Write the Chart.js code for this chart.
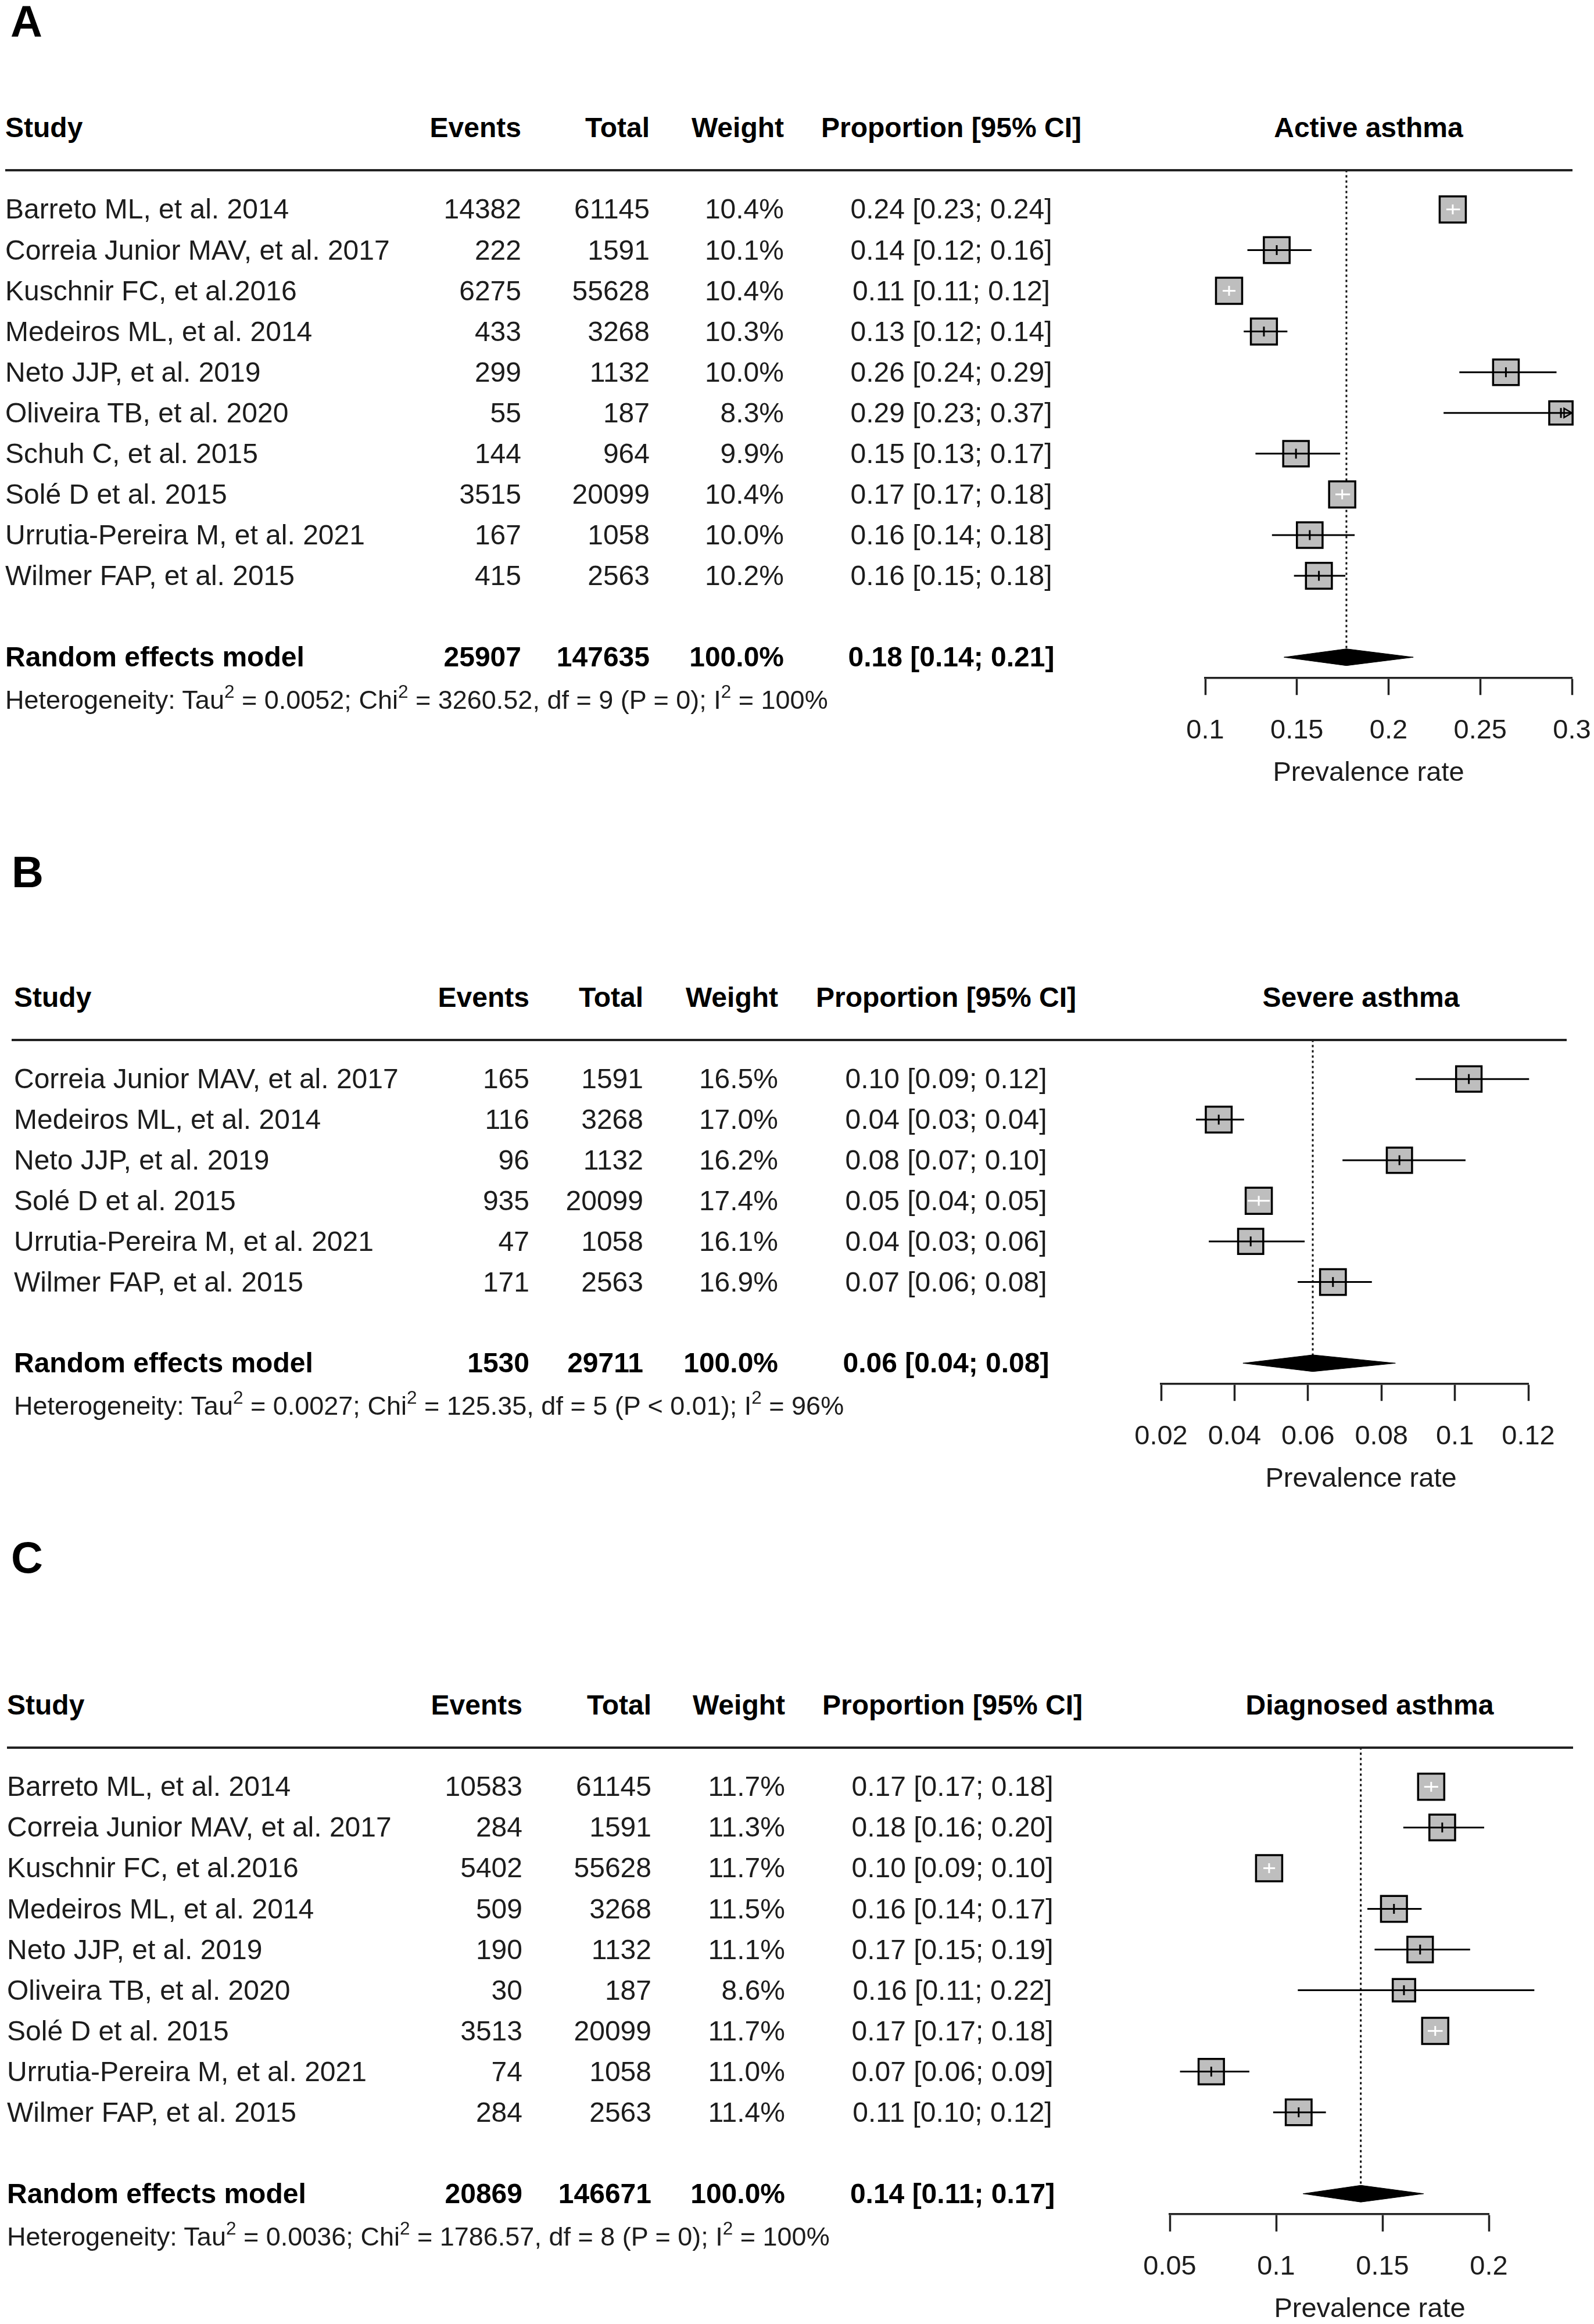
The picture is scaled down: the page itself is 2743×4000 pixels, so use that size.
<!DOCTYPE html>
<html>
<head>
<meta charset="utf-8">
<script src="https://cdn.jsdelivr.net/npm/chart.js@4.4.1/dist/chart.umd.min.js"></script>
<style>
html,body{margin:0;padding:0;background:#fff;}
#page{position:relative;width:2743px;height:4000px;overflow:hidden;background:#fff;font-family:"Liberation Sans",Arial,sans-serif;}
.hline{position:absolute;height:4px;background:#222;}
</style>
</head>
<body>
<div id="page"></div>
<script>
// ================= DATA =================
// ---- Panel A : Active asthma ----
const studiesA = ["Barreto ML, et al. 2014","Correia Junior MAV, et al. 2017","Kuschnir FC, et al.2016","Medeiros ML, et al. 2014","Neto JJP, et al. 2019","Oliveira TB, et al. 2020","Schuh C, et al. 2015","Solé D et al. 2015","Urrutia-Pereira M, et al. 2021","Wilmer FAP, et al. 2015"];
const eventsA  = [14382, 222, 6275, 433, 299, 55, 144, 3515, 167, 415];
const totalsA  = [61145, 1591, 55628, 3268, 1132, 187, 964, 20099, 1058, 2563];
const weightsA = [10.4, 10.1, 10.4, 10.3, 10.0, 8.3, 9.9, 10.4, 10.0, 10.2];
const propTextA = ["0.24 [0.23; 0.24]","0.14 [0.12; 0.16]","0.11 [0.11; 0.12]","0.13 [0.12; 0.14]","0.26 [0.24; 0.29]","0.29 [0.23; 0.37]","0.15 [0.13; 0.17]","0.17 [0.17; 0.18]","0.16 [0.14; 0.18]","0.16 [0.15; 0.18]"];
const estA  = [0.235, 0.139, 0.113, 0.132, 0.264, 0.294, 0.1495, 0.1747, 0.157, 0.162];
const lowA  = [0.2315, 0.123, 0.1095, 0.121, 0.2386, 0.23, 0.1274, 0.171, 0.1364, 0.1484];
const highA = [0.239, 0.158, 0.1165, 0.1448, 0.2916, 0.37, 0.1736, 0.179, 0.1815, 0.1764];
const pooledA = [0.143, 0.177, 0.2135];           // low, estimate, high
const summaryA = ["Random effects model", "25907", "147635", "100.0%", "0.18 [0.14; 0.21]"];
const hetA = "Heterogeneity: Tau^2 = 0.0052; Chi^2 = 3260.52, df = 9 (P = 0); I^2 = 100%";
const ticksA = [0.1, 0.15, 0.2, 0.25, 0.3];
const tickLabelsA = ["0.1", "0.15", "0.2", "0.25", "0.3"];
const xlimA = [0.1, 0.3];
const titleA = "Active asthma";

// ---- Panel B : Severe asthma ----
const studiesB = ["Correia Junior MAV, et al. 2017","Medeiros ML, et al. 2014","Neto JJP, et al. 2019","Solé D et al. 2015","Urrutia-Pereira M, et al. 2021","Wilmer FAP, et al. 2015"];
const eventsB  = [165, 116, 96, 935, 47, 171];
const totalsB  = [1591, 3268, 1132, 20099, 1058, 2563];
const weightsB = [16.5, 17.0, 16.2, 17.4, 16.1, 16.9];
const propTextB = ["0.10 [0.09; 0.12]","0.04 [0.03; 0.04]","0.08 [0.07; 0.10]","0.05 [0.04; 0.05]","0.04 [0.03; 0.06]","0.07 [0.06; 0.08]"];
const estB  = [0.1038, 0.0357, 0.0849, 0.0466, 0.0444, 0.0668];
const lowB  = [0.0893, 0.0295, 0.0694, 0.0436, 0.033, 0.0572];
const highB = [0.1202, 0.0426, 0.1029, 0.0496, 0.0591, 0.0774];
const pooledB = [0.0423, 0.0613, 0.0838];
const summaryB = ["Random effects model", "1530", "29711", "100.0%", "0.06 [0.04; 0.08]"];
const hetB = "Heterogeneity: Tau^2 = 0.0027; Chi^2 = 125.35, df = 5 (P < 0.01); I^2 = 96%";
const ticksB = [0.02, 0.04, 0.06, 0.08, 0.1, 0.12];
const tickLabelsB = ["0.02", "0.04", "0.06", "0.08", "0.1", "0.12"];
const xlimB = [0.02, 0.13];
const titleB = "Severe asthma";

// ---- Panel C : Diagnosed asthma ----
const studiesC = ["Barreto ML, et al. 2014","Correia Junior MAV, et al. 2017","Kuschnir FC, et al.2016","Medeiros ML, et al. 2014","Neto JJP, et al. 2019","Oliveira TB, et al. 2020","Solé D et al. 2015","Urrutia-Pereira M, et al. 2021","Wilmer FAP, et al. 2015"];
const eventsC  = [10583, 284, 5402, 509, 190, 30, 3513, 74, 284];
const totalsC  = [61145, 1591, 55628, 3268, 1132, 187, 20099, 1058, 2563];
const weightsC = [11.7, 11.3, 11.7, 11.5, 11.1, 8.6, 11.7, 11.0, 11.4];
const propTextC = ["0.17 [0.17; 0.18]","0.18 [0.16; 0.20]","0.10 [0.09; 0.10]","0.16 [0.14; 0.17]","0.17 [0.15; 0.19]","0.16 [0.11; 0.22]","0.17 [0.17; 0.18]","0.07 [0.06; 0.09]","0.11 [0.10; 0.12]"];
const estC  = [0.1729, 0.1781, 0.0967, 0.1554, 0.1677, 0.1601, 0.1748, 0.0695, 0.1106];
const lowC  = [0.1696, 0.1598, 0.094, 0.1429, 0.1463, 0.1102, 0.1713, 0.0548, 0.0986];
const highC = [0.1762, 0.1978, 0.0995, 0.1684, 0.1912, 0.2214, 0.1783, 0.0874, 0.1234];
const pooledC = [0.1127, 0.1398, 0.1693];
const summaryC = ["Random effects model", "20869", "146671", "100.0%", "0.14 [0.11; 0.17]"];
const hetC = "Heterogeneity: Tau^2 = 0.0036; Chi^2 = 1786.57, df = 8 (P = 0); I^2 = 100%";
const ticksC = [0.05, 0.1, 0.15, 0.2];
const tickLabelsC = ["0.05", "0.1", "0.15", "0.2"];
const xlimC = [0.05, 0.25];
const titleC = "Diagnosed asthma";

const headers = ["Study", "Events", "Total", "Weight", "Proportion [95% CI]"];
const axisTitle = "Prevalence rate";

// ================= LAYOUT (positions / styles) =================
const PAGE_W = 2743;
const ROW_GAP = 70.5;
const BOX_SIDE = 45;
const FONT = '"Liberation Sans", Arial, sans-serif';

const layoutA = {letter:"A", letterX:18, letterY:36, row1:355, axisLeft:2074, axisRight:2705, colStudy:9, colEvents:897, colTotal:1118, colWeight:1349, colProp:1637, colTitle:2355, lineL:9, lineR:2706};
const layoutB = {letter:"B", letterX:20, letterY:1500, row1:1852, axisLeft:1998, axisRight:2630, colStudy:24, colEvents:911, colTotal:1107, colWeight:1339, colProp:1628, colTitle:2342, lineL:20, lineR:2696};
const layoutC = {letter:"C", letterX:19, letterY:2680, row1:3070, axisLeft:2013, axisRight:2562, colStudy:12, colEvents:899, colTotal:1121, colWeight:1351, colProp:1639, colTitle:2357, lineL:12, lineR:2707};

const page = document.getElementById('page');

function txt(content, x, yc, o) {
  o = o || {};
  const size = o.size || 48;
  const d = document.createElement('div');
  let css = `position:absolute;white-space:nowrap;left:${x}px;top:${yc - 0.4885*size}px;font-size:${size}px;line-height:${size}px;` +
            `font-weight:${o.bold ? 'bold' : 'normal'};color:${o.bold ? '#000' : '#1c1c1c'};`;
  if (o.align === 'right') css += 'transform:translateX(-100%);';
  if (o.align === 'center') css += 'transform:translateX(-50%);';
  d.style.cssText = css;
  if (o.html) d.innerHTML = content; else d.textContent = content;
  page.appendChild(d);
}

function buildPanel(cfg, L) {
  const n = cfg.studies.length;
  const yMax = n + 2.5;
  const padTop = 30, axisH = 150;
  const plotH = ROW_GAP * yMax;
  const cTop = L.row1 - ROW_GAP - padTop;
  const cH = Math.ceil(padTop + plotH + axisH);
  const fitH = cH - padTop - plotH;

  const canvas = document.createElement('canvas');
  canvas.width = PAGE_W; canvas.height = cH;
  canvas.style.cssText = `position:absolute;left:0;top:${cTop}px;width:${PAGE_W}px;height:${cH}px;`;
  page.appendChild(canvas);

  const t0 = cfg.ticks[0], t1 = cfg.ticks[cfg.ticks.length - 1];
  const pxPerUnit = (L.axisRight - L.axisLeft) / (t1 - t0);
  const wMax = Math.max(...cfg.weights);
  const sides = cfg.weights.map(w => BOX_SIDE * Math.sqrt(w / wMax));
  const inside = cfg.est.map((e, i) => (cfg.high[i] - cfg.low[i]) * pxPerUnit < sides[i]);
  const markCol = inside.map(f => f ? '#ffffff' : '#000000');
  const rows = cfg.est.map((_, i) => i + 1);
  const pooledRow = n + 2;
  const dh = 14.5 / ROW_GAP;

  const datasets = [];
  datasets.push({label:'pooled line', data:[{x:cfg.pooled[1], y:0.03}, {x:cfg.pooled[1], y:pooledRow}],
    showLine:true, borderColor:'#111', borderWidth:3, borderDash:[4,5], pointRadius:0, clip:false, order:6});
  datasets.push({label:'diamond', data:[
      {x:cfg.pooled[0], y:pooledRow}, {x:cfg.pooled[1], y:pooledRow - dh}, {x:cfg.pooled[2], y:pooledRow},
      {x:cfg.pooled[1], y:pooledRow + dh}, {x:cfg.pooled[0], y:pooledRow}, {x:cfg.pooled[2], y:pooledRow}],
    showLine:true, fill:'shape', backgroundColor:'#000', borderColor:'#000', borderWidth:1, pointRadius:0, tension:0, order:5});
  datasets.push({label:'studies', data: cfg.est.map((e, i) => ({x:e, y:rows[i]})),
    pointStyle:'rect', pointRadius: sides.map(s => s / Math.SQRT2), pointBackgroundColor:'#bebebe',
    pointBorderColor:'#000', pointBorderWidth:3.5, showLine:false, clip:false, order:4});
  cfg.est.forEach((e, i) => {
    datasets.push({label:'ci' + i, data:[{x:Math.max(cfg.low[i], cfg.xlim[0]), y:rows[i]}, {x:Math.min(cfg.high[i], cfg.xlim[1]), y:rows[i]}],
      showLine:true, borderColor:markCol[i], borderWidth:3, pointRadius:0, clip:false, order:3});
  });
  const arrows = [];
  cfg.est.forEach((e, i) => { if (cfg.high[i] > cfg.xlim[1]) arrows.push({x: cfg.xlim[1] - 9 / pxPerUnit, y: rows[i]}); });
  if (arrows.length) {
    datasets.push({label:'arrow', data:arrows, pointStyle:'triangle', pointRotation:90, pointRadius:9,
      pointBackgroundColor:'rgba(0,0,0,0)', pointBorderColor:'#000', pointBorderWidth:2.5, showLine:false, clip:false, order:2});
  }
  datasets.push({label:'estimate', data: cfg.est.map((e, i) => ({x:e, y:rows[i]})),
    pointStyle:'line', pointRotation:90, pointRadius:8.5, pointBorderColor:markCol, pointBorderWidth:3,
    showLine:false, clip:false, order:1});

  const chart = new Chart(canvas, {
    type:'scatter',
    data:{datasets},
    options:{
      responsive:false, animation:false, devicePixelRatio:1, events:[],
      layout:{padding:{left:L.axisLeft, right:PAGE_W - L.axisRight, top:padTop, bottom:0}},
      plugins:{legend:{display:false}, tooltip:{enabled:false}},
      scales:{
        x:{type:'linear', position:'bottom', min:t0, max:t1,
          afterBuildTicks: s => { s.ticks = cfg.ticks.map(v => ({value:v})); },
          afterFit: s => { s.height = fitH; s.paddingLeft = 0; s.paddingRight = 0; },
          border:{display:true, color:'#222', width:3.5},
          grid:{display:true, drawOnChartArea:false, drawTicks:true, tickLength:30, tickWidth:3.5, tickColor:'#222', color:'#222'},
          ticks:{callback:(v, i) => cfg.tickLabels[i], autoSkip:false, maxRotation:0, minRotation:0, padding:38,
            color:'#1c1c1c', font:{family:FONT, size:47, lineHeight:1}}
        },
        y:{type:'linear', display:false, min:0, max:yMax, reverse:true}
      }
    }
  });

  const ys = chart.scales.y;
  const py = v => cTop + ys.getPixelForValue(v);
  const axisY = cTop + chart.chartArea.bottom;

  // panel letter
  txt(L.letter, L.letterX, L.letterY, {size:76, bold:true});
  // headers
  const hy = py(-1.0);
  txt(headers[0], L.colStudy, hy, {bold:true});
  txt(headers[1], L.colEvents, hy, {bold:true, align:'right'});
  txt(headers[2], L.colTotal, hy, {bold:true, align:'right'});
  txt(headers[3], L.colWeight, hy, {bold:true, align:'right'});
  txt(headers[4], L.colProp, hy, {bold:true, align:'center'});
  txt(cfg.title, L.colTitle, hy, {bold:true, align:'center'});
  // header rule
  const hl = document.createElement('div');
  hl.className = 'hline';
  hl.style.left = L.lineL + 'px'; hl.style.width = (L.lineR - L.lineL) + 'px'; hl.style.top = (py(0.04) - 2) + 'px';
  page.appendChild(hl);
  // rows
  cfg.studies.forEach((s, i) => {
    const y = py(rows[i]);
    txt(s, L.colStudy, y);
    txt(String(cfg.events[i]), L.colEvents, y, {align:'right'});
    txt(String(cfg.totals[i]), L.colTotal, y, {align:'right'});
    txt(cfg.weights[i].toFixed(1) + '%', L.colWeight, y, {align:'right'});
    txt(cfg.propText[i], L.colProp, y, {align:'center'});
  });
  // summary
  const sy = py(pooledRow);
  txt(cfg.summary[0], L.colStudy, sy, {bold:true});
  txt(cfg.summary[1], L.colEvents, sy, {bold:true, align:'right'});
  txt(cfg.summary[2], L.colTotal, sy, {bold:true, align:'right'});
  txt(cfg.summary[3], L.colWeight, sy, {bold:true, align:'right'});
  txt(cfg.summary[4], L.colProp, sy, {bold:true, align:'center'});
  // heterogeneity
  const supHtml = '<sup style="font-size:0.7em;vertical-align:0.6em;line-height:0">2</sup>';
  const hetHtml = cfg.het.replace(/&/g,'&amp;').replace(/</g,'&lt;').replace(/\^2/g, supHtml);
  txt(hetHtml, L.colStudy, py(n + 3.05), {size:45, html:true});
  // axis title
  txt(axisTitle, L.colTitle, axisY + 161, {size:47, align:'center'});
}

buildPanel({studies:studiesA, events:eventsA, totals:totalsA, weights:weightsA, propText:propTextA,
  est:estA, low:lowA, high:highA, pooled:pooledA, summary:summaryA, het:hetA,
  ticks:ticksA, tickLabels:tickLabelsA, xlim:xlimA, title:titleA}, layoutA);
buildPanel({studies:studiesB, events:eventsB, totals:totalsB, weights:weightsB, propText:propTextB,
  est:estB, low:lowB, high:highB, pooled:pooledB, summary:summaryB, het:hetB,
  ticks:ticksB, tickLabels:tickLabelsB, xlim:xlimB, title:titleB}, layoutB);
buildPanel({studies:studiesC, events:eventsC, totals:totalsC, weights:weightsC, propText:propTextC,
  est:estC, low:lowC, high:highC, pooled:pooledC, summary:summaryC, het:hetC,
  ticks:ticksC, tickLabels:tickLabelsC, xlim:xlimC, title:titleC}, layoutC);
</script>
</body>
</html>
